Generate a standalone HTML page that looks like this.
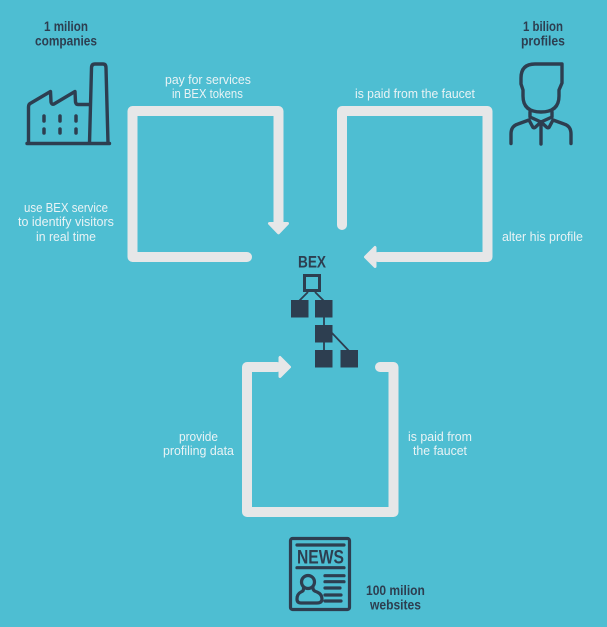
<!DOCTYPE html>
<html>
<head>
<meta charset="utf-8">
<style>
html,body{margin:0;padding:0;width:607px;height:627px;overflow:hidden;background:#4ebed2}
svg{display:block}
text{font-family:"Liberation Sans",sans-serif}
.w{fill:#e9f3f5;font-size:13px}
.d{fill:#2d3e50;font-size:14px;font-weight:bold}
</style>
</head>
<body>
<svg width="607" height="627" viewBox="0 0 607 627" xmlns="http://www.w3.org/2000/svg">
<rect width="607" height="627" fill="#4ebed2"/>

<!-- loops -->
<g fill="none" stroke="#e6e7e8" stroke-width="10" stroke-linejoin="round" stroke-linecap="round">
  <path d="M247 257H132.500V111H278.500V222" />
  <path d="M342 225V111H487.500V257H378" />
  <path d="M380 367H393.500V512H247V367H277" />
</g>
<g fill="#e6e7e8" stroke="#e6e7e8" stroke-width="3" stroke-linejoin="round">
  <path d="M269.500 223.500H287.500L278.500 232.800Z"/>
  <path d="M375 247.500V266.500L365.500 257Z"/>
  <path d="M280 357.500V376.500L289.500 367Z"/>
</g>

<!-- factory -->
<g fill="none" stroke="#2d3e50" stroke-width="3.400" stroke-linejoin="round" stroke-linecap="round">
  <path d="M27 143.500H109.500"/>
  <path d="M28.500 143V107Q28.500 104 31 103L50.500 91.500L51 102Q51.500 105 54 104L75 91.500L75.500 102Q76 104.500 78 104.500H89.500"/>
  <path d="M89.500 143L91.500 68Q91.500 64 95 64H103Q106 64 106 68L108 143"/>
</g>
<g fill="none" stroke="#2d3e50" stroke-width="3.500" stroke-linecap="round">
  <path d="M44 116V121M44 129V133M60 116V121M60 129V133M76 116V121M76 129V133"/>
</g>

<!-- person -->
<g fill="none" stroke="#2d3e50" stroke-width="3.400" stroke-linejoin="round" stroke-linecap="round">
  <path d="M562 64H535Q521 64 521 78V84L523 90V96Q523 112 541 112Q559 112 559 96V90L562 83Z"/>
  <path d="M529 120L518 124Q511 126 511 134V143.500"/>
  <path d="M553 120L564 124Q571 126 571 134V143.500"/>
  <path d="M530 112V117L541 122L552 117V112"/>
  <path d="M529 120L533 127.500Q534 128 535 127.500L541 122L547 127.500Q548 128 549 127.500L553 120"/>
  <path d="M541 122V144"/>
</g>

<!-- BEX tree -->
<g stroke="#2d3e50" fill="none">
  <path d="M308 292L299 301M315 292L324 301M324 316V327M324 340V352M332 333L350 352" stroke-width="1.800"/>
  <rect x="304.500" y="275.500" width="15" height="15" stroke-width="3"/>
</g>
<g fill="#2d3e50">
  <rect x="291" y="300" width="17.500" height="17.500"/>
  <rect x="315" y="300" width="17.500" height="17.500"/>
  <rect x="315" y="325" width="17.500" height="17.500"/>
  <rect x="315" y="350" width="17.500" height="17.500"/>
  <rect x="340.500" y="350" width="17.500" height="17.500"/>
</g>
<text transform="translate(298 267.300) scale(.826 1)" font-size="16.500" font-weight="bold" fill="#2d3e50">BEX</text>

<!-- news -->
<g fill="none" stroke="#2d3e50" stroke-width="3.200" stroke-linejoin="round" stroke-linecap="round">
  <rect x="290.500" y="538.500" width="59" height="71" rx="2"/>
  <path d="M297 545H344M297 567.700H344"/>
  <path d="M325 575.700H344M325 581.700H344M325 588H340M325 595H341M325 601H341"/>
  <circle cx="308" cy="582" r="6.500"/>
  <path d="M303.500 588Q304 591 301 592Q297 594 297 599Q297 603 301 603H317Q322 603 322 599Q322 594 317 592Q313 591 313 588"/>
</g>
<text transform="translate(297 563.500) scale(.803 1)" font-size="19.500" font-weight="bold" fill="#2d3e50">NEWS</text>

<!-- dark labels -->
<text class="d" transform="translate(44 31) scale(.832 1)">1 milion</text>
<text class="d" transform="translate(35 45.500) scale(.848 1)">companies</text>
<text class="d" transform="translate(523 31) scale(.816 1)">1 bilion</text>
<text class="d" transform="translate(521 45.500) scale(.87 1)">profiles</text>
<text class="d" transform="translate(366 595) scale(.861 1)">100 milion</text>
<text class="d" transform="translate(370 609.500) scale(.863 1)">websites</text>

<!-- white labels -->
<text class="w" transform="translate(165 84) scale(.945 1)">pay for services</text>
<text class="w" transform="translate(172 98) scale(.869 1)">in BEX tokens</text>
<text class="w" transform="translate(24 212) scale(.881 1)">use BEX service</text>
<text class="w" transform="translate(18 226) scale(.963 1)">to identify visitors</text>
<text class="w" transform="translate(36 241) scale(.944 1)">in real time</text>
<text class="w" transform="translate(355 98) scale(.938 1)">is paid from the faucet</text>
<text class="w" transform="translate(502 241) scale(.958 1)">alter his profile</text>
<text class="w" transform="translate(179 441) scale(.915 1)">provide</text>
<text class="w" transform="translate(163 455) scale(.954 1)">profiling data</text>
<text class="w" transform="translate(408 441) scale(.952 1)">is paid from</text>
<text class="w" transform="translate(413 455) scale(.946 1)">the faucet</text>
</svg>
</body>
</html>
